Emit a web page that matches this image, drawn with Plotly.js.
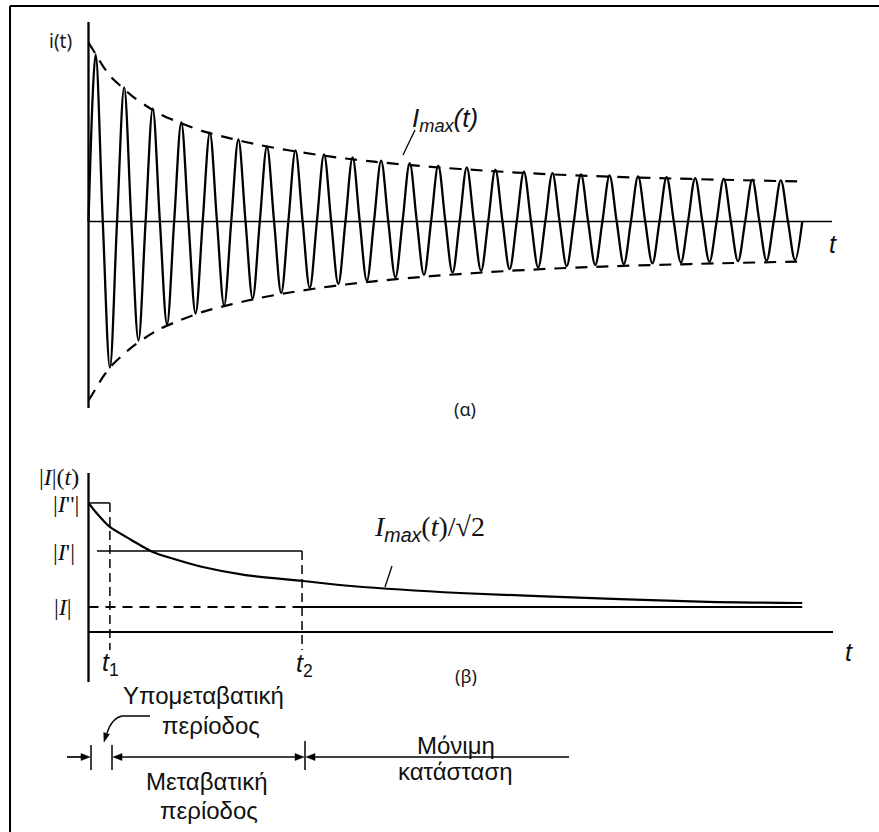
<!DOCTYPE html>
<html><head><meta charset="utf-8">
<script src="https://cdn.plot.ly/plotly-3.0.1.min.js"></script>
<style>html,body{margin:0;padding:0;background:#fff}</style>
</head><body><div id="chart" style="width:879px;height:832px"></div>
<script>
// ===================== DATA =====================
// (α) instantaneous current i(t); time in cycles, amplitude in p.u. of the initial envelope
const cycleStart = [0,1,2,3,4,5,6,7,8,9,10,11,12,13,14,15,16,17,18,19,20,21,22,23,24];
const peakAmp   = [0.933,0.749,0.631,0.553,0.497,0.458,0.419,0.397,0.375,0.358,0.340,0.326,0.312,0.302,0.290,0.278,0.270,0.263,0.257,0.252,0.248,0.242,0.238,0.234,0.230];
const troughAmp = [0.816,0.665,0.575,0.514,0.469,0.430,0.400,0.372,0.350,0.332,0.312,0.298,0.286,0.276,0.266,0.257,0.249,0.243,0.238,0.234,0.229,0.225,0.222,0.219,0.216];
const waveEnd = 25;
// envelope Imax(t)
const envT = [0,0.25,0.5,0.75,1,1.5,2,2.5,3,4,5,6,7,8,9,10,12,14,16,18,20,22,25];
const envA = [1.0,0.935,0.87,0.815,0.775,0.705,0.648,0.60,0.565,0.505,0.463,0.427,0.398,0.373,0.352,0.334,0.305,0.283,0.265,0.252,0.242,0.234,0.223];
// (β) rms magnitude Imax(t)/√2
const rmsT = [0,0.25,0.5,0.75,1.5,2.25,3,4,5.5,7.5,9.2,13,18.6,21.7,25];
const rmsA = [0.721,0.670,0.626,0.587,0.514,0.447,0.408,0.363,0.318,0.285,0.257,0.218,0.184,0.168,0.162];
const levelLabels = ["|<i>I</i>''|", "|<i>I</i>'|", "|<i>I</i>|"];
const levelVals = [0.721, 0.453, 0.140];      // |I''|, |I'|, |I|
const markLabels = ["<i>t</i><sub>1</sub>", "<i>t</i><sub>2</sub>"];
const markT = [0.75, 7.48];                    // t1, t2
const periodLabels = ["Υπομεταβατική", "περίοδος", "Μεταβατική", "περίοδος", "Μόνιμη", "κατάσταση"];

// ===================== GEOMETRY =====================
const W = 879, H = 832;
const X0 = 88.5, PXC = 28.55;           // pixel of t=0, pixels per cycle
const TOP_ZERO = 221.5, BOT_ZERO = 632, PXU = 179, SPLIT = 430;
const xr = [-X0 / PXC, (W - X0) / PXC];
const tOf = p => (p - X0) / PXC;
const yT = p => (TOP_ZERO - p) / PXU;
const yB = p => (BOT_ZERO - p) / PXU;
const px = x => x / W;
const py = y => 1 - y / H;

const INK = '#000';

// ===================== TRACES =====================
const waveX = [], waveY = [];
cycleStart.forEach((c, k) => {
  waveX.push(c, c + 0.25, c + 0.5, c + 0.75);
  waveY.push(0, peakAmp[k], 0, -troughAmp[k]);
});
waveX.push(waveEnd); waveY.push(0);

const [lvSub, lvTr, lvSt] = levelVals;
const [t1, t2] = markT;
const dropEnd = yB(650);

const traces = [
  {x: waveX, y: waveY, xaxis: 'x', yaxis: 'y', mode: 'lines',
   line: {color: INK, width: 2.3, shape: 'spline', smoothing: 1}},
  {x: envT, y: envA, xaxis: 'x', yaxis: 'y', mode: 'lines',
   line: {color: INK, width: 2.2, dash: '12px,9px', shape: 'spline', smoothing: 0.8}},
  {x: envT, y: envA.map(v => -v), xaxis: 'x', yaxis: 'y', mode: 'lines',
   line: {color: INK, width: 2.2, dash: '12px,9px', shape: 'spline', smoothing: 0.8}},
  // bottom panel
  {x: rmsT, y: rmsA, xaxis: 'x2', yaxis: 'y2', mode: 'lines',
   line: {color: INK, width: 2.2, shape: 'spline', smoothing: 0.8}},
  {x: [0, t1], y: [lvSub, lvSub], xaxis: 'x2', yaxis: 'y2', mode: 'lines', line: {color: INK, width: 1.5}},
  {x: [t1, t1], y: [lvSub, dropEnd], xaxis: 'x2', yaxis: 'y2', mode: 'lines', line: {color: INK, width: 1.5, dash: '9px,5px'}},
  {x: [tOf(97), t2], y: [lvTr, lvTr], xaxis: 'x2', yaxis: 'y2', mode: 'lines', line: {color: INK, width: 1.5}},
  {x: [t2, t2], y: [lvTr, dropEnd], xaxis: 'x2', yaxis: 'y2', mode: 'lines', line: {color: INK, width: 1.5, dash: '9px,5px'}},
  {x: [0, t2], y: [lvSt, lvSt], xaxis: 'x2', yaxis: 'y2', mode: 'lines', line: {color: INK, width: 2, dash: '10px,7px'}},
  {x: [t2, waveEnd], y: [lvSt, lvSt], xaxis: 'x2', yaxis: 'y2', mode: 'lines', line: {color: INK, width: 2}}
];

// ===================== SHAPES =====================
const L = (x0, y0, x1, y1, xref, yref, w) => ({type: 'line', x0, y0, x1, y1, xref, yref, line: {color: INK, width: w}});
const PL = (x0, y0, x1, y1, w) => L(px(x0), py(y0), px(x1), py(y1), 'paper', 'paper', w);
// filled arrow head with tip at (x,y), pointing along direction (dx,dy) in pixels
const head = (x, y, dx, dy, len, half) => {
  const n = Math.hypot(dx, dy), ux = dx / n, uy = dy / n;
  const bx = x - ux * len, by = y - uy * len;
  const p1 = [bx - uy * half, by + ux * half], p2 = [bx + uy * half, by - ux * half];
  return {type: 'path', xref: 'paper', yref: 'paper', fillcolor: INK, line: {color: INK, width: 0.5},
    path: `M ${px(x)} ${py(y)} L ${px(p1[0])} ${py(p1[1])} L ${px(p2[0])} ${py(p2[1])} Z`};
};
const ROW = 757;
const shapes = [
  // outer frame (top and left edges)
  PL(10, 6, 10, 832, 2),
  PL(10, 6, 879, 6, 2),
  // top axes
  L(0, yT(22), 0, yT(408), 'x', 'y', 2.3),
  L(0, 0, tOf(832), 0, 'x', 'y', 1.7),
  // bottom axes
  L(0, yB(473), 0, yB(682), 'x2', 'y2', 2.3),
  L(0, 0, tOf(833), 0, 'x2', 'y2', 2),
  // leader lines
  PL(415, 130, 403, 155, 1.3),
  PL(392, 566, 385, 587, 1.3),
  // period ticks
  PL(91, 745, 91, 770, 1.5),
  PL(112, 745, 112, 770, 1.5),
  PL(305, 741, 305, 770, 1.5),
  // period arrows
  PL(67, ROW, 84, ROW, 1.7), head(90, ROW, 1, 0, 9, 3.5),
  PL(120, ROW, 297, ROW, 1.7), head(113, ROW, -1, 0, 9, 3.5), head(304, ROW, 1, 0, 9, 3.5),
  PL(313, ROW, 569, ROW, 1.7), head(306, ROW, -1, 0, 9, 3.5),
  // curved leader for sub-transient label
  {type: 'path', xref: 'paper', yref: 'paper', line: {color: INK, width: 1.3},
   path: `M ${px(150)} ${py(716)} L ${px(122)} ${py(716)} Q ${px(112)} ${py(718)} ${px(107)} ${py(733)}`},
  head(104, 742, -0.3, 1, 9, 3)
];

// ===================== ANNOTATIONS =====================
const A = (text, x, y, font, extra) => Object.assign({text, x: px(x), y: py(y), xref: 'paper', yref: 'paper',
  showarrow: false, xanchor: 'center', yanchor: 'middle', font}, extra || {});
const sans = s => ({family: 'Liberation Sans, Arial, sans-serif', size: s, color: '#111'});
const calib = s => ({family: 'Noto Sans, sans-serif', size: s, color: '#1a1a1a'});
const serif = s => ({family: 'Liberation Serif, Times New Roman, serif', size: s, color: '#111'});

const annotations = [
  A('i(t)', 60, 41, calib(19)),
  A('<i>I</i><sub><i>max</i></sub><i>(t)</i>', 445, 120, sans(26)),
  A('<i>t</i>', 833, 244, sans(25)),
  A('(α)', 465, 409, calib(18)),
  A('|<i>I</i>|(<i>t</i>)', 81, 477, serif(24), {xanchor: 'right'}),
  A(levelLabels[0], 81, 504, serif(24), {xanchor: 'right'}),
  A(levelLabels[1], 77, 552, serif(24), {xanchor: 'right'}),
  A(levelLabels[2], 74, 607, serif(24), {xanchor: 'right'}),
  A(markLabels[0], 111, 664, sans(25)),
  A(markLabels[1], 304, 665, sans(25)),
  A('(β)', 466, 676, calib(18)),
  A('<i>t</i>', 849, 652, sans(25)),
  A("<i>I</i><sub><span style='font-family:Liberation Sans'><i>max</i></span></sub>(<i>t</i>)/√2", 429, 528, serif(28)),
  A(periodLabels[0], 203, 695, sans(24)),
  A(periodLabels[1], 211, 725, sans(24)),
  A(periodLabels[2], 207, 781, sans(24)),
  A(periodLabels[3], 209, 810, sans(24)),
  A(periodLabels[4], 456, 745, sans(24)),
  A(periodLabels[5], 456, 771, sans(24))
];

const hid = {visible: false, fixedrange: true};
const layout = {
  width: W, height: H, margin: {l: 0, r: 0, t: 0, b: 0},
  paper_bgcolor: '#fff', plot_bgcolor: 'rgba(0,0,0,0)', showlegend: false,
  xaxis: Object.assign({domain: [0, 1], range: xr, anchor: 'y'}, hid),
  yaxis: Object.assign({domain: [1 - SPLIT / H, 1], range: [yT(SPLIT), yT(0)], anchor: 'x'}, hid),
  xaxis2: Object.assign({domain: [0, 1], range: xr, anchor: 'y2'}, hid),
  yaxis2: Object.assign({domain: [0, 1 - SPLIT / H], range: [yB(H), yB(SPLIT)], anchor: 'x2'}, hid),
  shapes, annotations
};
Plotly.newPlot('chart', traces, layout, {staticPlot: true, displayModeBar: false});
</script></body></html>
